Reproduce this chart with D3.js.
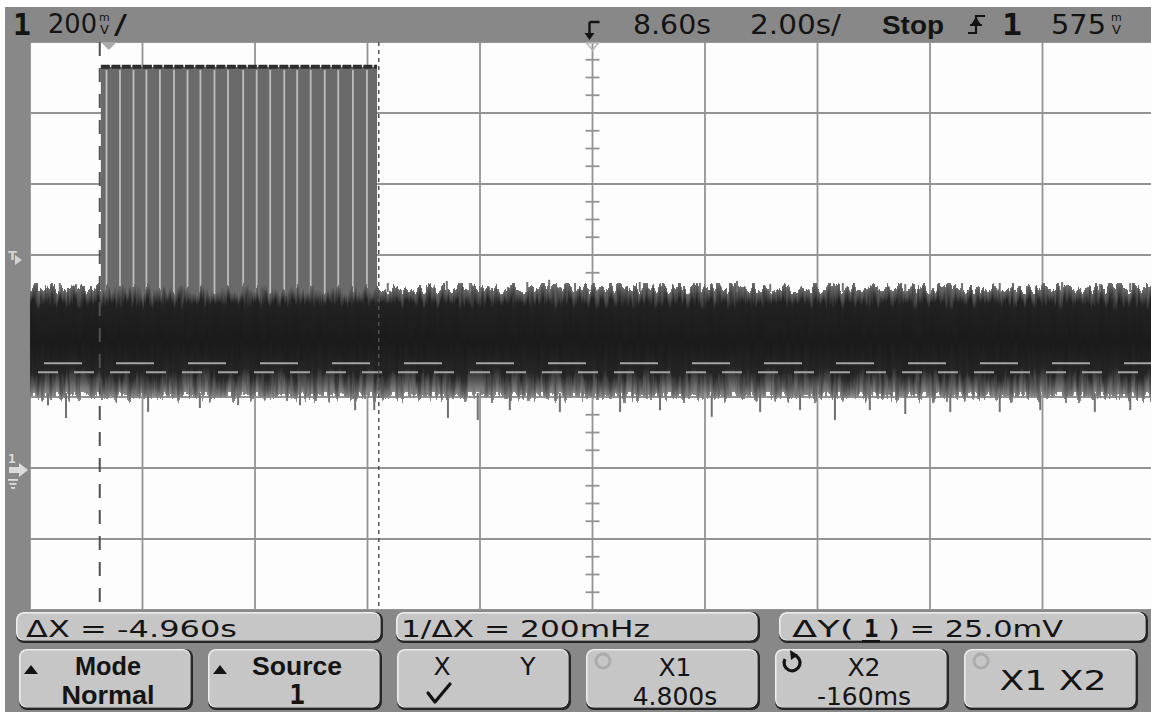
<!DOCTYPE html>
<html>
<head>
<meta charset="utf-8">
<script src="https://cdn.jsdelivr.net/npm/d3@7"></script>
<style>
  html, body { margin: 0; padding: 0; background: #fff; overflow: hidden; }
  svg { display: block; }
</style>
</head>
<body>
<svg id="scope" width="1151" height="712"></svg>
<script>
// Channel 1 capture: 200 mV/div, 2.00 s/div, delay 8.60 s, rising-edge trigger at 575 mV.

// ---- data ----------------------------------------------------------------
const timeDomain = [-1.4, 18.6];          // s, ten divisions around the 8.60 s delay
const voltDomain = [-400, 1200];          // mV, eight divisions, ground at 0
const divTimes = [-1.4, 0.6, 2.6, 4.6, 6.6, 8.6, 10.6, 12.6, 14.6, 16.6, 18.6];
const divVolts = [-400, -200, 0, 200, 400, 600, 800, 1000, 1200];
const delayTime = 8.6;
const centerVolt = 400;
const triggerTime = 0;
const triggerLevel = 575;                 // mV
const cursorX1 = 4.8;                     // s
const cursorX2 = -0.16;                   // s
const cursorY1 = 295;                     // mV
const cursorY2 = 270;                     // mV

// burst of pulses between the two time cursors
const burstStart = -0.14;
const burstEnd = 4.77;
const burstHigh = 1130;                   // mV
const burstGaps = [-0.04, 0.20, 0.44, 0.67, 0.91, 1.16, 1.40, 1.63, 1.88, 2.12,
                   2.39, 2.63, 2.87, 3.12, 3.35, 3.59, 3.84, 4.08, 4.34, 4.59];

// noise floor envelope (mV): outer edge and dense core
const noiseOuter = [507, 200];
const noiseCore = [462, 268];

// isolated noise peaks above and below the band: [time s, level mV]
const spikesUp = [[-0.87, 521], [-0.58, 518], [4.96, 521], [6.01, 527], [6.42, 521],
                  [7.44, 524], [7.83, 530], [8.29, 521], [9.44, 524], [10.51, 521],
                  [11.17, 527], [11.76, 518], [13.05, 521], [14.16, 518], [15.17, 521],
                  [15.84, 521], [16.95, 524], [17.62, 518], [18.16, 521]];
const spikesDown = [[-1.08, 177], [-0.76, 141], [0.70, 158], [1.62, 169], [2.30, 177],
                    [3.40, 177], [4.38, 163], [4.72, 163], [6.03, 141], [6.56, 135],
                    [7.13, 163], [8.02, 158], [9.09, 158], [9.80, 163], [10.72, 144],
                    [11.58, 158], [12.29, 163], [12.91, 135], [13.53, 163], [14.16, 152],
                    [14.96, 158], [15.84, 158], [16.56, 163], [17.53, 158], [18.16, 163]];

// readouts
const chLabel = "1";
const voltsPerDiv = "200";
const delayLabel = "8.60s";
const timePerDiv = "2.00s/";
const runState = "Stop";
const trigLabel = "575";
const deltaX = "ΔX = -4.960s";
const invDeltaX = "1/ΔX = 200mHz";
const deltaY = ["ΔY(", "1", ") = 25.0mV"];
const softkeys = [
  { top: "Mode", bottom: "Normal", arrow: true, bold: true },
  { top: "Source", bottom: "1", arrow: true, bold: true },
  { top: "X", top2: "Y", check: true },
  { top: "X1", bottom: "4.800s", icon: "ring" },
  { top: "X2", bottom: "-160ms", icon: "turn" },
  { single: "X1 X2", icon: "ring" }
];

// ---- layout ----------------------------------------------------------------
const W = 1151, H = 712;
const P = { left: 30, top: 42, right: 1155, bottom: 610 };
const x = d3.scaleLinear().domain(timeDomain).range([P.left, P.right]);
const y = d3.scaleLinear().domain(voltDomain).range([P.bottom, P.top]);

const svg = d3.select("#scope");
const defs = svg.append("defs");

const FRAME = "#888888";
const KEY = "#c6c6c6";
const INK = "#141414";
const SANS = "'DejaVu Sans', sans-serif";
const BOLD = "'Liberation Sans', Arial, sans-serif";
const MONO = "'DejaVu Sans Mono', monospace";

svg.append("rect").attr("width", W).attr("height", H).attr("fill", "#ffffff");

// instrument frame: status bar, left marker strip, softkey area
svg.append("path")
  .attr("fill", FRAME)
  .attr("d", `M5,7 H${W} V${P.top} H${P.left} V${P.bottom} H${W} V${H} H5 Z`);

// ---- waveform area ------------------------------------------------------------
defs.append("clipPath").attr("id", "plotClip")
  .append("rect").attr("x", P.left).attr("y", P.top)
  .attr("width", W - P.left).attr("height", P.bottom - P.top);

const plot = svg.append("g").attr("clip-path", "url(#plotClip)");
plot.append("rect").attr("x", P.left).attr("y", P.top)
  .attr("width", W - P.left).attr("height", P.bottom - P.top).attr("fill", "#fdfdfd");

// graticule
const GRID = "#939393";
plot.append("g").selectAll("line").data(divTimes).join("line")
  .attr("x1", d => x(d)).attr("x2", d => x(d))
  .attr("y1", P.top).attr("y2", P.bottom)
  .attr("stroke", GRID).attr("stroke-width", 1.8);
plot.append("g").selectAll("line").data(divVolts).join("line")
  .attr("x1", P.left).attr("x2", P.right)
  .attr("y1", d => y(d)).attr("y2", d => y(d))
  .attr("stroke", GRID).attr("stroke-width", 1.8);

// centre axes with quarter-division ticks
const vTicks = y.ticks(32);
const axisG = plot.append("g").attr("stroke", GRID).attr("stroke-width", 1.8);
axisG.selectAll("line.vt").data(vTicks).join("line").attr("class", "vt")
  .attr("x1", x(delayTime) - 7).attr("x2", x(delayTime) + 7)
  .attr("y1", d => y(d)).attr("y2", d => y(d));
const hTicks = d3.range(divTimes.length * 5).map(i => timeDomain[0] + i * 0.4);
axisG.selectAll("line.ht").data(hTicks).join("line").attr("class", "ht")
  .attr("x1", d => x(d)).attr("x2", d => x(d))
  .attr("y1", y(centerVolt) - 6).attr("y2", y(centerVolt) + 6);

// burst: filled envelope, the gaps between pulses, dark top edge
const burst = plot.append("g");
burst.append("rect")
  .attr("x", x(burstStart)).attr("width", x(burstEnd) - x(burstStart))
  .attr("y", y(burstHigh)).attr("height", y(noiseCore[0]) - y(burstHigh))
  .attr("fill", "#6a6a6a");
burst.selectAll("line.gap").data(burstGaps).join("line").attr("class", "gap")
  .attr("x1", d => x(d)).attr("x2", d => x(d))
  .attr("y1", y(burstHigh) + 3).attr("y2", y(noiseOuter[0]) + 6)
  .attr("stroke", "#bdbdbd").attr("stroke-width", 1.8);
burst.append("line")
  .attr("x1", x(burstStart)).attr("x2", x(burstEnd))
  .attr("y1", y(burstHigh)).attr("y2", y(burstHigh))
  .attr("stroke", "#2e2e2e").attr("stroke-width", 4)
  .attr("stroke-dasharray", "9 1.5");

// noise floor: shaded band, roughened edges
const grad = defs.append("linearGradient").attr("id", "noiseShade")
  .attr("gradientUnits", "userSpaceOnUse")
  .attr("x1", 0).attr("x2", 0)
  .attr("y1", y(noiseOuter[0])).attr("y2", y(noiseOuter[1]));
const span = y(noiseOuter[1]) - y(noiseOuter[0]);
const off = v => (y(v) - y(noiseOuter[0])) / span;
[[0, "#6e6e6e"], [off(noiseCore[0]) * 0.5, "#4a4a4a"], [off(noiseCore[0]), "#222222"],
 [0.5, "#1a1a1a"], [off(noiseCore[1]), "#262626"],
 [off(noiseCore[1]) + (1 - off(noiseCore[1])) * 0.5, "#545454"], [1, "#8a8a8a"]]
  .forEach(([o, c]) => grad.append("stop").attr("offset", o).attr("stop-color", c));

const rough = defs.append("filter").attr("id", "rough")
  .attr("x", "-1%").attr("y", "-40%").attr("width", "102%").attr("height", "180%")
  .attr("color-interpolation-filters", "sRGB");
rough.append("feTurbulence").attr("type", "fractalNoise")
  .attr("baseFrequency", "0.22 0.02").attr("numOctaves", 3).attr("seed", 11).attr("result", "t");
rough.append("feColorMatrix").attr("in", "t").attr("type", "matrix")
  .attr("values", "2.6 0 0 0 -0.8  0 0 0 0 0.5  0 0 0 0 0  0 0 0 0 1").attr("result", "m");
rough.append("feDisplacementMap").attr("in", "SourceGraphic").attr("in2", "m")
  .attr("scale", 11).attr("xChannelSelector", "G").attr("yChannelSelector", "R");

plot.append("rect")
  .attr("x", P.left - 4).attr("width", W - P.left + 8)
  .attr("y", y(noiseOuter[0])).attr("height", span)
  .attr("fill", "url(#noiseShade)").attr("filter", "url(#rough)");

const spikeG = plot.append("g").attr("stroke", "#707070").attr("stroke-width", 2);
spikeG.selectAll("line.up").data(spikesUp).join("line").attr("class", "up")
  .attr("x1", d => x(d[0])).attr("x2", d => x(d[0]))
  .attr("y1", y(noiseOuter[0]) + 4).attr("y2", d => y(d[1]));
spikeG.selectAll("line.dn").data(spikesDown).join("line").attr("class", "dn")
  .attr("x1", d => x(d[0])).attr("x2", d => x(d[0]))
  .attr("y1", y(noiseOuter[1]) - 4).attr("y2", d => y(d[1]));

// voltage cursors
plot.append("line").attr("x1", P.left).attr("x2", W)
  .attr("y1", y(cursorY1)).attr("y2", y(cursorY1))
  .attr("stroke", "#a4a4a4").attr("stroke-width", 2).attr("stroke-dasharray", "38 34")
  .attr("stroke-dashoffset", -14);
plot.append("line").attr("x1", P.left).attr("x2", W)
  .attr("y1", y(cursorY2)).attr("y2", y(cursorY2))
  .attr("stroke", "#a4a4a4").attr("stroke-width", 2).attr("stroke-dasharray", "20 16")
  .attr("stroke-dashoffset", -8);

// time cursors
plot.append("line").attr("x1", x(cursorX2)).attr("x2", x(cursorX2))
  .attr("y1", P.top).attr("y2", P.bottom)
  .attr("stroke", "#505050").attr("stroke-width", 2).attr("stroke-dasharray", "14 12");
plot.append("line").attr("x1", x(cursorX1)).attr("x2", x(cursorX1))
  .attr("y1", P.top).attr("y2", P.bottom)
  .attr("stroke", "#505050").attr("stroke-width", 1.5).attr("stroke-dasharray", "4 4");

// ---- markers ---------------------------------------------------------------------
// trigger point on the time axis
const tp = x(triggerTime);
svg.append("path").attr("d", `M${tp - 8},${P.top} L${tp + 8},${P.top} L${tp},${P.top + 8} Z`)
  .attr("fill", "#a9a9a9");
// delay reference at screen centre
const dc = x(delayTime);
svg.append("path").attr("d", `M${dc - 6},${P.top + 1} L${dc + 6},${P.top + 1} L${dc},${P.top + 8} Z`)
  .attr("fill", "none").attr("stroke", "#b8b8b8").attr("stroke-width", 1.5);

// trigger level marker "T"
const ty = y(triggerLevel) - 5;
const tg = svg.append("g").attr("fill", "#d4d4d4");
tg.append("text").attr("x", 8).attr("y", ty + 1).attr("font-family", SANS)
  .attr("font-size", 13).attr("font-weight", "bold").text("T");
tg.append("path").attr("d", `M15,${ty - 4} L22,${ty + 1} L15,${ty + 6} Z`);

// channel 1 ground marker
const gy = y(0) + 2;
const gg = svg.append("g").attr("fill", "#dcdcdc");
gg.append("text").attr("x", 8).attr("y", gy - 7).attr("font-family", MONO)
  .attr("font-size", 13).attr("font-weight", "bold").text(chLabel);
gg.append("path").attr("d", `M9,${gy - 3} H19 V${gy - 7} L28,${gy} L19,${gy + 7} V${gy + 3} H9 Z`);
gg.append("rect").attr("x", 8).attr("y", gy + 9).attr("width", 10).attr("height", 1.8);
gg.append("rect").attr("x", 9.5).attr("y", gy + 13).attr("width", 7).attr("height", 1.8);
gg.append("rect").attr("x", 11).attr("y", gy + 17).attr("width", 4).attr("height", 1.8);

// ---- status bar -----------------------------------------------------------------
function label(s, x0, yb, opt = {}) {
  const t = svg.append("text").attr("x", x0).attr("y", yb)
    .attr("font-family", opt.family || SANS)
    .attr("font-size", opt.size || 26)
    .attr("font-weight", opt.weight || "normal")
    .attr("fill", opt.fill || INK)
    .attr("text-anchor", opt.anchor || "start")
    .text(s);
  if (opt.len) t.attr("textLength", opt.len).attr("lengthAdjust", opt.adjust || "spacingAndGlyphs");
  return t;
}
// unit "mV" written as a small m over V
function stackedMV(x0) {
  const t = svg.append("text").attr("font-family", SANS).attr("fill", INK);
  t.append("tspan").attr("x", x0).attr("y", 21).attr("font-size", 11).text("m");
  t.append("tspan").attr("x", x0 + 1).attr("y", 34).attr("font-size", 13).text("V");
}

label(chLabel, 13, 35, { family: MONO, size: 31, weight: "bold", len: 18 });
label(voltsPerDiv, 48, 33, { size: 27, len: 49 });
stackedMV(99);
label("/", 114, 34, { size: 27, len: 13 });

// delay marker glyph in the status bar
svg.append("path").attr("d", `M${dc - 3},22 H${dc + 7} M${dc - 3},22 V37`)
  .attr("stroke", INK).attr("stroke-width", 2.4).attr("fill", "none");
svg.append("path").attr("d", `M${dc - 8},33 L${dc + 2},33 L${dc - 3},40 Z`).attr("fill", INK);

label(delayLabel, 633, 34, { size: 26, len: 78 });
label(timePerDiv, 750, 34, { size: 26, len: 91 });
label(runState, 882, 34, { family: BOLD, size: 26, weight: "bold", len: 62 });
// rising-edge trigger glyph
svg.append("path")
  .attr("d", "M968,33 H976 V16 H985 M970,25 H982")
  .attr("stroke", INK).attr("stroke-width", 2.2).attr("fill", "none");
svg.append("path").attr("d", "M971.5,24 L976,17 L980.5,24 Z").attr("fill", INK);
label(chLabel, 1002, 35, { family: MONO, size: 31, weight: "bold", len: 20 });
label(trigLabel, 1051, 34, { size: 27, len: 55 });
stackedMV(1111);

// ---- softkeys -----------------------------------------------------------------------
function keyBox(x0, y0, w, h) {
  const g = svg.append("g");
  g.append("rect").attr("x", x0).attr("y", y0).attr("width", w).attr("height", h)
    .attr("rx", 8).attr("fill", "#262626");
  g.append("rect").attr("x", x0).attr("y", y0).attr("width", w - 2.5).attr("height", h - 2.5)
    .attr("rx", 7.5).attr("fill", "#eeeeee");
  g.append("rect").attr("x", x0 + 1.5).attr("y", y0 + 1.5).attr("width", w - 4.5).attr("height", h - 4.5)
    .attr("rx", 6.5).attr("fill", KEY);
  return g;
}

keyBox(16, 612, 367, 31);
keyBox(396, 612, 364, 31);
keyBox(779, 612, 369, 31);
label(deltaX, 26, 637, { size: 23, len: 211 });
label(invDeltaX, 401, 637, { size: 23, len: 249 });
label(deltaY[0], 792, 637, { size: 23, len: 62 });
label(deltaY[1], 864, 637, { family: MONO, size: 24, weight: "bold" });
svg.append("rect").attr("x", 862).attr("y", 640).attr("width", 18).attr("height", 2.5).attr("fill", INK);
label(deltaY[2], 888, 637, { size: 23, len: 175 });

softkeys.forEach((k, i) => {
  const x0 = 19 + 189 * i, w = 174, cx = x0 + w / 2 + 2;
  keyBox(x0, 649, w, 61);
  if (k.arrow) {
    svg.append("path").attr("d", `M${x0 + 5},${674} L${x0 + 19},${674} L${x0 + 12},${665} Z`).attr("fill", INK);
  }
  if (k.icon === "ring") {
    svg.append("circle").attr("cx", x0 + 17).attr("cy", 661).attr("r", 7)
      .attr("fill", "none").attr("stroke", "#acacac").attr("stroke-width", 3);
  }
  if (k.icon === "turn") {
    svg.append("path").attr("d", `M${x0 + 10},${659} A8,8 0 1,0 ${x0 + 19},${655}`)
      .attr("fill", "none").attr("stroke", INK).attr("stroke-width", 3.2);
    svg.append("path").attr("d", `M${x0 + 15},${650} L${x0 + 23},${655} L${x0 + 16},${660} Z`).attr("fill", INK);
  }
  if (k.single) {
    label(k.single, cx, 690, { size: 26, anchor: "middle", len: 107 });
    return;
  }
  if (k.top2) {
    label(k.top, 442, 675, { size: 25, anchor: "middle" });
    label(k.top2, 528, 675, { size: 25, anchor: "middle" });
    // selection tick under the X choice
    svg.append("path").attr("d", "M428,693 L435,702 L450,684")
      .attr("fill", "none").attr("stroke", INK).attr("stroke-width", 3.2)
      .attr("stroke-linecap", "round").attr("stroke-linejoin", "round");
    return;
  }
  if (k.bold) {
    const topLen = k.top === "Mode" ? 66 : 90;
    label(k.top, cx, 675, { family: BOLD, size: 25, weight: "bold", anchor: "middle", len: topLen });
    if (k.bottom === "1") {
      label(k.bottom, cx, 704, { family: MONO, size: 26, weight: "bold", anchor: "middle" });
    } else {
      label(k.bottom, cx, 704, { family: BOLD, size: 25, weight: "bold", anchor: "middle", len: 93 });
    }
  } else {
    label(k.top, cx, 676, { size: 25, anchor: "middle" });
    label(k.bottom, cx, 705, { size: 25, anchor: "middle" });
  }
});
</script>
</body>
</html>
